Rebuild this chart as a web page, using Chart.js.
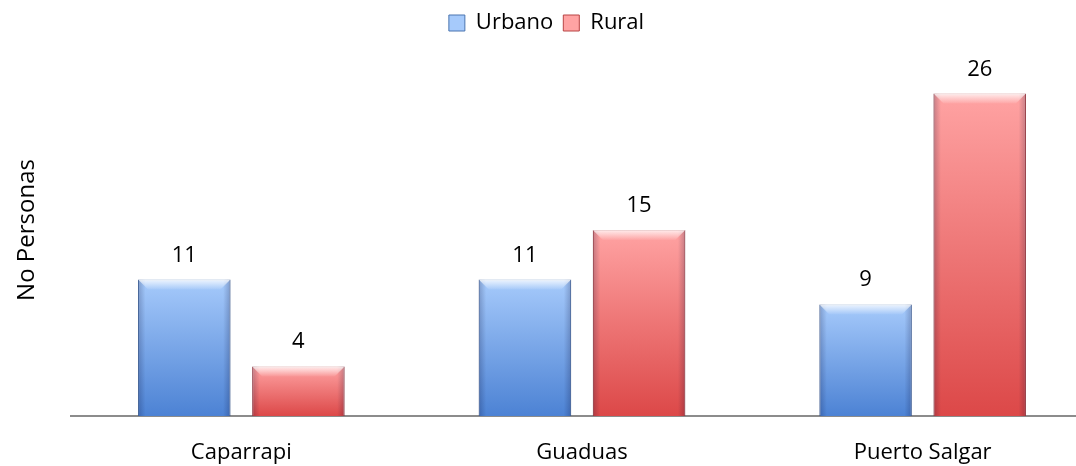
<!DOCTYPE html>
<html>
<head>
<meta charset="utf-8">
<script src="https://cdn.jsdelivr.net/npm/chart.js@4"></script>
<style>
  html, body { margin: 0; padding: 0; background: #fff; overflow: hidden; }
  #wrap { width: 1093px; height: 466px; position: relative; }
</style>
</head>
<body>
<div id="wrap"><canvas id="chart" width="1093" height="466"></canvas></div>
<script>
const categories = ['Caparrapi', 'Guaduas', 'Puerto Salgar'];
const urbano = [11, 11, 9];
const rural = [4, 15, 26];
const seriesNames = ['Urbano', 'Rural'];

const FONT = "'Open Sans', 'Noto Sans', sans-serif";

// vertical gradient per bar, light at top, darker at the base
function barFill(top, bottom) {
  return (ctx) => {
    const chart = ctx.chart;
    const y = chart.scales && chart.scales.y;
    if (!chart.chartArea || !y || ctx.type !== 'data') return top;
    const y0 = y.getPixelForValue(ctx.raw);
    const y1 = y.getPixelForValue(0);
    if (!isFinite(y0) || !isFinite(y1) || y0 === y1) return top;
    const g = chart.ctx.createLinearGradient(0, y0, 0, y1);
    g.addColorStop(0, top);
    g.addColorStop(1, bottom);
    return g;
  };
}

// darker side edges and a light bevel at the top of each bar
const bevelPlugin = {
  id: 'bevel',
  afterDatasetsDraw(chart) {
    const c = chart.ctx;
    chart.data.datasets.forEach((ds, i) => {
      chart.getDatasetMeta(i).data.forEach(bar => {
        const { x, y, base, width } = bar.getProps(['x', 'y', 'base', 'width'], true);
        const l = x - width / 2, r = x + width / 2;
        c.save();
        const h = c.createLinearGradient(l, 0, r, 0);
        h.addColorStop(0, 'rgba(0,0,40,0.22)');
        h.addColorStop(0.08, 'rgba(0,0,40,0)');
        h.addColorStop(0.92, 'rgba(0,0,40,0)');
        h.addColorStop(1, 'rgba(0,0,40,0.22)');
        c.fillStyle = h;
        c.fillRect(l, y, width, base - y);
        const b = Math.min(10, (base - y) / 3);
        const v = c.createLinearGradient(0, y, 0, y + b);
        v.addColorStop(0, 'rgba(255,255,255,0.8)');
        v.addColorStop(1, 'rgba(255,255,255,0.05)');
        c.fillStyle = v;
        c.beginPath();
        c.moveTo(l, y);
        c.lineTo(r, y);
        c.lineTo(r - b, y + b);
        c.lineTo(l + b, y + b);
        c.closePath();
        c.fill();
        c.restore();
      });
    });
  }
};

// value labels above the bars
const valueLabels = {
  id: 'valueLabels',
  afterDatasetsDraw(chart) {
    const c = chart.ctx;
    c.save();
    c.font = '22px ' + FONT;
    c.fillStyle = '#000';
    c.textAlign = 'center';
    c.textBaseline = 'alphabetic';
    chart.data.datasets.forEach((ds, i) => {
      chart.getDatasetMeta(i).data.forEach((bar, j) => {
        c.fillText(ds.data[j], bar.x, bar.y - 18);
      });
    });
    c.restore();
  }
};

new Chart(document.getElementById('chart'), {
  type: 'bar',
  data: {
    labels: categories,
    datasets: [
      {
        label: seriesNames[0],
        data: urbano,
        backgroundColor: barFill('#a6cafb', '#4c82d4'),
        borderColor: '#4a74b0',
        borderWidth: 1
      },
      {
        label: seriesNames[1],
        data: rural,
        backgroundColor: barFill('#ffa3a3', '#dc4848'),
        borderColor: '#b84444',
        borderWidth: 1
      }
    ]
  },
  options: {
    responsive: false,
    animation: false,
    categoryPercentage: 0.67,
    barPercentage: 0.81,
    layout: { padding: { top: 2, right: 0, bottom: 0, left: 0 } },
    plugins: {
      legend: {
        position: 'top',
        labels: {
          font: { family: FONT, size: 22 },
          color: '#000',
          boxWidth: 16,
          boxHeight: 16,
          padding: 10
        }
      },
      tooltip: { enabled: false }
    },
    scales: {
      x: {
        grid: { display: false },
        border: { color: '#8c8c8c', width: 2 },
        ticks: { font: { family: FONT, size: 22 }, color: '#000', padding: 16 },
        afterFit(scale) { scale.height = 50; }
      },
      y: {
        min: 0,
        max: 30,
        grid: { display: false },
        border: { display: false },
        ticks: { display: false },
        title: {
          display: true,
          text: 'No Personas',
          font: { family: FONT, size: 24 },
          color: '#000',
          padding: { top: 13, bottom: 0 }
        },
        afterFit(scale) { scale.width = 71; }
      }
    }
  },
  plugins: [bevelPlugin, valueLabels]
});
</script>
</body>
</html>
